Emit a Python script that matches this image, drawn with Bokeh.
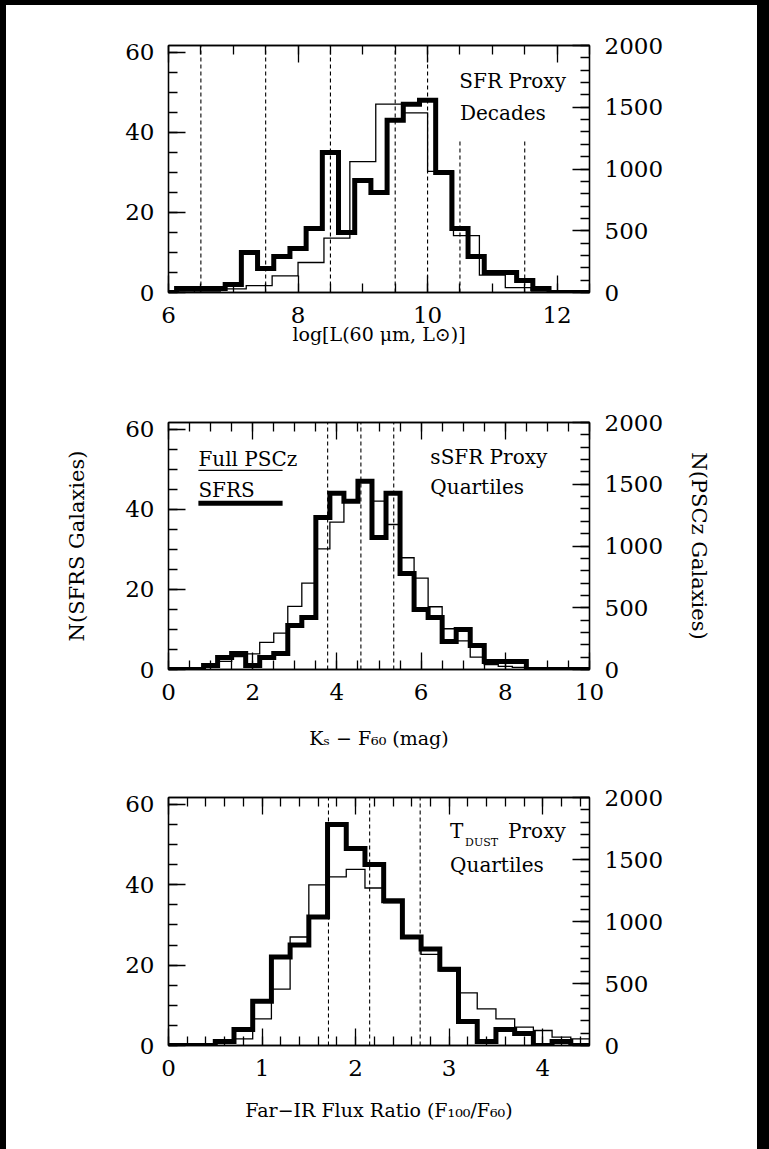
import numpy as np
from bokeh.plotting import figure
from bokeh.models import Range1d, LinearAxis, SingleIntervalTicker, CustomJSTickFormatter, Label
from bokeh.layouts import column
from bokeh.embed import file_html
from bokeh.resources import INLINE

# ---------------- data ----------------
LEFT_MAX = 61.7      # N(SFRS) axis top
RIGHT_MAX = 2000     # N(PSCz) axis top

# Panel 1: log L(60um)
lum_sfrs_start = 5.875
lum_sfrs_width = 0.25
lum_sfrs_counts = [0, 1, 1, 1, 2, 10, 6, 9, 11, 16, 35, 15, 28, 25, 43, 47, 48, 30, 16, 9, 5, 5, 3, 1, 0, 0, 0]
lum_pscz_start = 6.0
lum_pscz_width = 0.4
lum_pscz_counts = [5, 12, 30, 55, 135, 243, 440, 1060, 1525, 1455, 980, 460, 140, 40, 12, 3, 0]
lum_cuts = [6.5, 7.5, 8.5, 9.5, 10.0, 10.5, 11.5]
lum_cut_tops = [61.7, 61.7, 61.7, 61.7, 61.7, 38.5, 38.5]

# Panel 2: Ks - F60
col_start = -1.0 / 6.0
col_width = 1.0 / 3.0
col_sfrs_counts = [0, 0, 0, 1, 3, 4, 1, 3, 4, 11, 13, 38, 44, 42, 47, 33, 44, 24, 15, 13, 7, 10, 6, 2, 2, 2, 0, 0, 0, 0, 0]
col_pscz_counts = [0, 3, 8, 24, 65, 105, 127, 219, 295, 511, 700, 977, 1193, 1360, 1520, 1364, 1174, 905, 740, 508,
                   330, 232, 100, 40, 25, 18, 6, 2, 0, 0, 0]
col_cuts = [3.78, 4.57, 5.35]

# Panel 3: F100/F60
rat_start = -0.1
rat_width = 0.2
rat_sfrs_counts = [0, 0, 0, 1, 4, 11, 22, 25, 32, 55, 49, 45, 36, 27, 24, 19, 6, 1, 4, 3, 0, 1, 0, 0]
rat_pscz_counts = [0, 2, 10, 27, 54, 215, 455, 875, 1296, 1360, 1420, 1270, 1150, 870, 735, 600, 425, 296, 215, 148,
                   121, 67, 54, 0]
rat_cuts = [1.71, 2.15, 2.69]

SERIF = "DejaVu Serif"


def outline(start, width, counts):
    n = np.asarray(counts, float)
    edges = start + width * np.arange(len(n) + 1)
    xs = np.repeat(edges, 2)
    ys = np.r_[0.0, np.repeat(n, 2), 0.0]
    return xs, ys


def style_axis(ax, standoff, label_size="19px"):
    ax.axis_line_color = "black"
    ax.axis_line_width = 1.3
    ax.major_tick_in = 17
    ax.major_tick_out = 0
    ax.minor_tick_in = 9
    ax.minor_tick_out = 0
    ax.major_tick_line_color = "black"
    ax.minor_tick_line_color = "black"
    ax.major_tick_line_width = 1.3
    ax.minor_tick_line_width = 1.3
    ax.major_label_text_font = SERIF
    ax.major_label_text_font_size = "23px"
    ax.major_label_text_color = "black"
    ax.major_label_standoff = standoff
    ax.axis_label_text_font = SERIF
    ax.axis_label_text_font_size = label_size
    ax.axis_label_text_font_style = "normal"
    ax.axis_label_text_color = "black"


def panel(height, top, bottom, xr, x_major, x_minor_n, xlabel, xlabel_standoff,
          left_label=None, right_label=None):
    p = figure(width=751, height=height, x_range=Range1d(*xr), y_range=Range1d(0, LEFT_MAX),
               x_axis_location=None, y_axis_location=None, output_backend="svg", toolbar_location=None,
               min_border_left=162, min_border_right=168, min_border_top=top, min_border_bottom=bottom)
    p.extra_y_ranges = {"pscz": Range1d(0, RIGHT_MAX)}
    p.grid.visible = False
    p.outline_line_color = "black"
    p.outline_line_width = 1.3
    p.border_fill_color = "white"
    p.background_fill_color = "white"

    xt = SingleIntervalTicker(interval=x_major, num_minor_ticks=x_minor_n)
    b = LinearAxis(ticker=xt, axis_label=xlabel)
    style_axis(b, 14)
    b.axis_label_standoff = xlabel_standoff
    t = LinearAxis(ticker=xt, formatter=CustomJSTickFormatter(code="return ''"))
    style_axis(t, 0)
    l = LinearAxis(ticker=SingleIntervalTicker(interval=20, num_minor_ticks=4), axis_label=left_label)
    style_axis(l, 14, "21px")
    l.axis_label_standoff = 33
    r = LinearAxis(y_range_name="pscz", ticker=SingleIntervalTicker(interval=500, num_minor_ticks=5),
                   axis_label=right_label)
    style_axis(r, 15, "21px")
    r.axis_label_standoff = 21
    p.add_layout(b, "below")
    p.add_layout(t, "above")
    p.add_layout(l, "left")
    p.add_layout(r, "right")
    return p


def draw(p, cuts, cut_tops, sfrs, pscz):
    p.segment(x0=cuts, y0=0, x1=cuts, y1=cut_tops, line_color="black", line_width=1.1, line_dash="4 3")
    xs, ys = outline(*pscz)
    p.line(xs, ys, y_range_name="pscz", line_color="black", line_width=1.3, line_join="miter")
    xs, ys = outline(*sfrs)
    p.line(xs, ys, line_color="black", line_width=5, line_join="miter")


def label(p, x, y, text, size="20px"):
    p.add_layout(Label(x=x, y=y, text=text, text_font=SERIF, text_font_size=size,
                       text_baseline="middle", text_align="left", text_color="black"))


# ---- panel 1 ----
p1 = panel(376, 40, 89, (6, 12.5), 2, 4, "log[L(60 \u03bcm, L\u2299)]", -3)
draw(p1, lum_cuts, lum_cut_tops,
     (lum_sfrs_start, lum_sfrs_width, lum_sfrs_counts),
     (lum_pscz_start, lum_pscz_width, lum_pscz_counts))
label(p1, 10.49, 52.8, "SFR Proxy")
label(p1, 10.5, 44.8, "Decades")

# ---- panel 2 ----
p2 = panel(376, 41, 88, (0, 10), 2, 4, "K\u209b \u2212 F\u2086\u2080 (mag)", 24,
           left_label="N(SFRS Galaxies)", right_label="N(PSCz Galaxies)")
draw(p2, col_cuts, [LEFT_MAX] * len(col_cuts),
     (col_start, col_width, col_sfrs_counts),
     (col_start, col_width, col_pscz_counts))
label(p2, 0.71, 52.6, "Full PSCz")
label(p2, 0.71, 44.8, "SFRS")
p2.line([0.71, 2.71], [49.75, 49.75], line_color="black", line_width=1.3)
p2.line([0.71, 2.71], [41.5, 41.5], line_color="black", line_width=5)
label(p2, 6.22, 53.2, "sSFR Proxy")
label(p2, 6.22, 45.5, "Quartiles")

# ---- panel 3 ----
p3 = panel(392, 40, 104, (0, 4.5), 1, 5, "Far\u2212IR Flux Ratio (F\u2081\u2080\u2080/F\u2086\u2080)", 20)
draw(p3, rat_cuts, [LEFT_MAX] * len(rat_cuts),
     (rat_start, rat_width, rat_sfrs_counts),
     (rat_start, rat_width, rat_pscz_counts))
label(p3, 3.01, 53.3, "T")
label(p3, 3.17, 50.6, "DUST", size="11px")
label(p3, 3.63, 53.3, "Proxy")
label(p3, 3.01, 45.0, "Quartiles")

inner = column(p1, p2, p3, spacing=0, margin=(5, 12, 0, 6), styles={"background-color": "white"})
layout = column(inner, styles={"background-color": "black"})

open("out.html", "w").write(file_html(layout, INLINE))
